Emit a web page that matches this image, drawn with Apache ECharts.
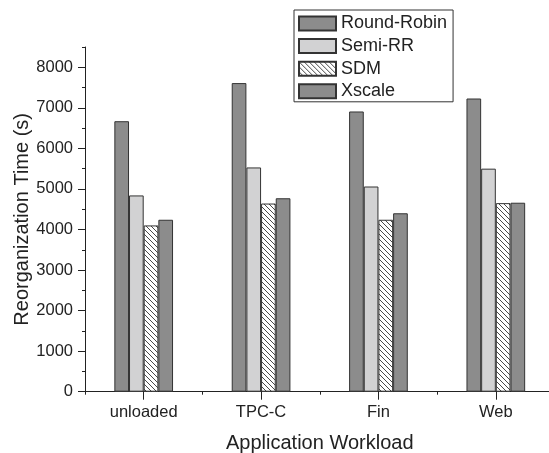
<!DOCTYPE html>
<html>
<head>
<meta charset="utf-8">
<script src="https://cdn.jsdelivr.net/npm/echarts@6/dist/echarts.min.js"></script>
<style>
  html, body { margin: 0; padding: 0; background: #fff; }
  #chart { width: 549px; height: 453px; }
</style>
</head>
<body>
<div id="chart"></div>
<script>
// Workloads on the x axis
const workloads = ['unloaded', 'TPC-C', 'Fin', 'Web'];

// Reorganization time in seconds per scheme
const roundRobin = [6670, 7610, 6910, 7230];
const semiRR     = [4840, 5530, 5060, 5500];
const sdm        = [4100, 4640, 4240, 4650];
const xscale     = [4240, 4770, 4400, 4660];

// Labelled y ticks
const yTicks = [0, 1000, 2000, 3000, 4000, 5000, 6000, 7000, 8000];

const FONT = "'Liberation Sans', Arial, Helvetica, sans-serif";
const INK = '#222';

// Diagonal hatch fill for the SDM bars
function hatch() {
  const s = 5;
  const c = document.createElement('canvas');
  c.width = s; c.height = s;
  const g = c.getContext('2d');
  g.fillStyle = '#fff';
  g.fillRect(0, 0, s, s);
  g.strokeStyle = '#333';
  g.lineWidth = 0.9;
  g.beginPath();
  g.moveTo(-1, -1); g.lineTo(s + 1, s + 1);
  g.moveTo(-1, s - 1); g.lineTo(1, s + 1);
  g.moveTo(s - 1, -1); g.lineTo(s + 1, 1);
  g.stroke();
  return { image: c, repeat: 'repeat' };
}

const chart = echarts.init(document.getElementById('chart'), null, { renderer: 'canvas' });

const barStyle = (fill) => ({ color: fill, borderColor: '#333', borderWidth: 1 });

chart.setOption({
  animation: false,
  backgroundColor: '#fff',
  textStyle: { fontFamily: FONT, color: INK },
  legend: {
    orient: 'vertical',
    left: 294,
    top: 10,
    padding: [4.5, 6, 1.5, 4],
    icon: 'rect',
    itemWidth: 37,
    itemHeight: 14,
    itemGap: 4.6,
    borderColor: '#333',
    borderWidth: 1,
    backgroundColor: '#fff',
    textStyle: { fontFamily: FONT, fontSize: 18, color: INK },
    data: ['Round-Robin', 'Semi-RR', 'SDM', 'Xscale']
  },
  grid: { left: 85, top: 47, bottom: 61.3, right: -5.5, containLabel: false, outerBoundsMode: 'none' },
  xAxis: [
    {
      type: 'category',
      data: workloads,
      boundaryGap: true,
      axisLine: { lineStyle: { color: INK, width: 1 } },
      axisTick: { show: true, length: 3, lineStyle: { color: INK } },
      axisLabel: { fontFamily: FONT, fontSize: 16.5, color: INK, margin: 12 },
      name: 'Application Workload',
      nameLocation: 'middle',
      nameGap: 42,
      nameTextStyle: { fontFamily: FONT, fontSize: 20, color: INK }
    },
    {
      type: 'category',
      data: workloads,
      position: 'bottom',
      boundaryGap: true,
      axisLine: { show: false },
      axisTick: { show: true, alignWithLabel: true, length: 8, lineStyle: { color: INK } },
      axisLabel: { show: false }
    }
  ],
  yAxis: [
    {
      type: 'value',
      min: 0,
      max: 8500,
      interval: 500,
      splitLine: { show: false },
      axisLine: { show: true, lineStyle: { color: INK, width: 1 } },
      axisTick: { show: true, length: 3, lineStyle: { color: INK } },
      axisLabel: { show: false },
      name: 'Reorganization Time (s)',
      nameLocation: 'middle',
      nameGap: 53,
      nameTextStyle: { fontFamily: FONT, fontSize: 20, color: INK }
    },
    {
      type: 'value',
      position: 'left',
      min: 0,
      max: 8500,
      interval: 1000,
      splitLine: { show: false },
      axisLine: { show: false },
      axisTick: { show: true, length: 7, customValues: yTicks, lineStyle: { color: INK } },
      axisLabel: {
        fontFamily: FONT, fontSize: 16.5, color: INK, margin: 12,
        customValues: yTicks,
        formatter: (v) => String(v)
      }
    }
  ],
  series: [
    { name: 'Round-Robin', type: 'bar', data: roundRobin, barGap: '0%', barCategoryGap: '50%', itemStyle: barStyle('#8c8c8c') },
    { name: 'Semi-RR', type: 'bar', data: semiRR, barGap: '0%', barCategoryGap: '50%', itemStyle: barStyle('#d2d2d3') },
    { name: 'SDM', type: 'bar', data: sdm, barGap: '0%', barCategoryGap: '50%', itemStyle: barStyle(hatch()) },
    { name: 'Xscale', type: 'bar', data: xscale, barGap: '0%', barCategoryGap: '50%', itemStyle: barStyle('#8c8c8c') }
  ]
});
</script>
</body>
</html>
